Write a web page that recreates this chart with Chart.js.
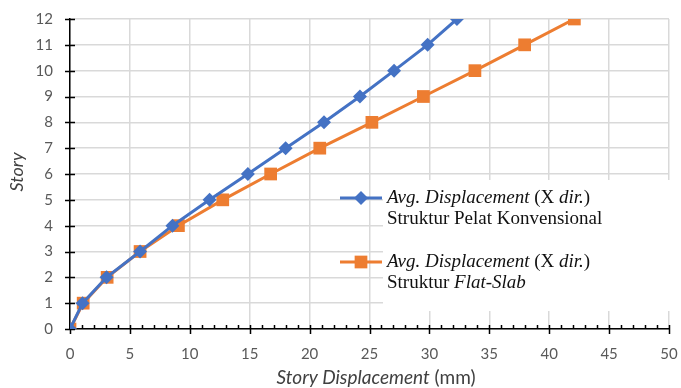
<!DOCTYPE html>
<html>
<head>
<meta charset="utf-8">
<script src="https://cdn.jsdelivr.net/npm/chart.js@4/dist/chart.umd.min.js"></script>
<style>
  html, body { margin: 0; padding: 0; background: #fff; }
  #wrap { width: 681px; height: 388px; position: relative; }
</style>
</head>
<body>
<div id="wrap"><canvas id="chart"></canvas></div>
<script>
// story levels and displacement (mm)
const stories = [0, 1, 2, 3, 4, 5, 6, 7, 8, 9, 10, 11, 12];
const dispKonvensional = [0, 1.05, 3.05, 5.85, 8.55, 11.65, 14.85, 18.0, 21.2, 24.2, 27.05, 29.85, 32.3];
const dispFlatSlab = [0, 1.1, 3.1, 5.85, 9.05, 12.75, 16.75, 20.85, 25.2, 29.5, 33.8, 37.95, 42.1];
const xTicks = [0, 5, 10, 15, 20, 25, 30, 35, 40, 45, 50];
const yTicks = [0, 1, 2, 3, 4, 5, 6, 7, 8, 9, 10, 11, 12];

const BLUE = '#4472C4';
const ORANGE = '#ED7D31';
const TICK_FONT = 'Lato, "Open Sans", sans-serif';
const SERIF = '"Liberation Serif", "DejaVu Serif", serif';

// draw text made of italic / normal pieces
function drawRich(ctx, parts, x, y, size, family, align) {
  let total = 0;
  parts.forEach(p => {
    ctx.font = (p.italic ? 'italic ' : '') + size + 'px ' + family;
    p.w = ctx.measureText(p.text).width;
    total += p.w;
  });
  let cx = align === 'center' ? x - total / 2 : x;
  ctx.textAlign = 'left';
  parts.forEach(p => {
    ctx.font = (p.italic ? 'italic ' : '') + size + 'px ' + family;
    ctx.fillText(p.text, cx, y);
    cx += p.w;
  });
}

const decorPlugin = {
  id: 'decor',
  beforeDatasetsDraw(chart) {
    const { ctx } = chart;
    const xs = chart.scales.x, ys = chart.scales.y;
    ctx.save();
    // white legend box hiding the grid
    ctx.fillStyle = '#fff';
    ctx.fillRect(383, 180, 298, 131);

    // tick marks on the axes
    ctx.strokeStyle = '#000';
    ctx.lineWidth = 1.5;
    ctx.beginPath();
    const x0 = xs.getPixelForValue(0);
    yTicks.forEach(v => {
      const py = Math.round(ys.getPixelForValue(v)) + 0.5;
      ctx.moveTo(x0 - 5, py);
      ctx.lineTo(x0 + 5, py);
    });
    const y0 = ys.getPixelForValue(0);
    for (let v = 0; v <= 50; v++) {
      const px = Math.round(xs.getPixelForValue(v)) + 0.5;
      if (v % 5 === 0) {
        ctx.moveTo(px, y0 - 4);
        ctx.lineTo(px, y0 + 5);
      } else {
        ctx.moveTo(px, y0 - 4);
        ctx.lineTo(px, y0);
      }
    }
    ctx.stroke();
    ctx.restore();
  },
  afterDraw(chart) {
    const { ctx } = chart;
    ctx.save();
    ctx.textBaseline = 'alphabetic';

    // axis titles
    ctx.fillStyle = '#404040';
    drawRich(ctx, [
      { text: 'Story Displacement', italic: true },
      { text: ' (mm)', italic: false }
    ], 376, 384, 19, TICK_FONT, 'center');

    ctx.save();
    ctx.translate(23, 172);
    ctx.rotate(-Math.PI / 2);
    ctx.font = 'italic 18px ' + TICK_FONT;
    ctx.textAlign = 'center';
    ctx.fillText('Story', 0, 0);
    ctx.restore();

    // legend
    const items = [
      { color: BLUE, style: 'rectRot', r: 7, y: 198,
        line1: [{ text: 'Avg. Displacement', italic: true }, { text: ' (X ', italic: false }, { text: 'dir.', italic: true }, { text: ')', italic: false }],
        line2: [{ text: 'Struktur Pelat Konvensional', italic: false }] },
      { color: ORANGE, style: 'rect', r: 9, y: 262,
        line1: [{ text: 'Avg. Displacement', italic: true }, { text: ' (X ', italic: false }, { text: 'dir.', italic: true }, { text: ')', italic: false }],
        line2: [{ text: 'Struktur ', italic: false }, { text: 'Flat-Slab', italic: true }] }
    ];
    items.forEach(it => {
      ctx.strokeStyle = it.color;
      ctx.lineWidth = 3;
      ctx.beginPath();
      ctx.moveTo(340, it.y);
      ctx.lineTo(382, it.y);
      ctx.stroke();
      ctx.fillStyle = it.color;
      Chart.helpers.drawPoint(ctx, { pointStyle: it.style, radius: it.r, borderWidth: 0 }, 361, it.y);
      ctx.fillStyle = '#111';
      drawRich(ctx, it.line1, 387, it.y + 5, 19, SERIF, 'left');
      drawRich(ctx, it.line2, 387, it.y + 26, 19, SERIF, 'left');
    });
    ctx.restore();
  }
};

function toPoints(xsArr) {
  return xsArr.map((v, i) => ({ x: v, y: stories[i] }));
}

new Chart(document.getElementById('chart'), {
  type: 'scatter',
  data: {
    datasets: [
      {
        label: 'Struktur Flat-Slab',
        data: toPoints(dispFlatSlab),
        showLine: true,
        borderColor: ORANGE,
        backgroundColor: ORANGE,
        borderWidth: 3,
        pointStyle: 'rect',
        pointRadius: 9,
        pointHoverRadius: 9,
        pointBorderWidth: 0,
        order: 2
      },
      {
        label: 'Struktur Pelat Konvensional',
        data: toPoints(dispKonvensional),
        showLine: true,
        borderColor: BLUE,
        backgroundColor: BLUE,
        borderWidth: 3,
        pointStyle: 'rectRot',
        pointRadius: 7,
        pointHoverRadius: 7,
        pointBorderWidth: 0,
        order: 1
      }
    ]
  },
  options: {
    responsive: true,
    maintainAspectRatio: false,
    animation: false,
    layout: { padding: { top: 19, right: 12, left: 0, bottom: 0 } },
    plugins: {
      legend: { display: false },
      tooltip: { enabled: false }
    },
    scales: {
      x: {
        type: 'linear',
        min: 0,
        max: 50,
        afterBuildTicks: s => { s.ticks = xTicks.map(v => ({ value: v })); },
        afterFit: s => { s.height = 59; s.paddingLeft = 0; s.paddingRight = 0; },
        ticks: { color: '#595959', font: { family: TICK_FONT, size: 15 }, padding: 8, maxRotation: 0 },
        grid: { color: '#d9d9d9', lineWidth: 1.5, drawTicks: true, tickLength: 8, tickColor: 'rgba(0,0,0,0)' },
        border: { display: true, color: '#000', width: 1.5 }
      },
      y: {
        type: 'linear',
        min: 0,
        max: 12,
        afterBuildTicks: s => { s.ticks = yTicks.map(v => ({ value: v })); },
        afterFit: s => { s.width = 70; s.paddingTop = 0; s.paddingBottom = 0; },
        ticks: { color: '#595959', font: { family: TICK_FONT, size: 15 }, padding: 17 },
        grid: { color: '#d9d9d9', lineWidth: 1.5, drawTicks: false },
        border: { display: true, color: '#000', width: 1.5 }
      }
    }
  },
  plugins: [decorPlugin]
});
</script>
</body>
</html>
